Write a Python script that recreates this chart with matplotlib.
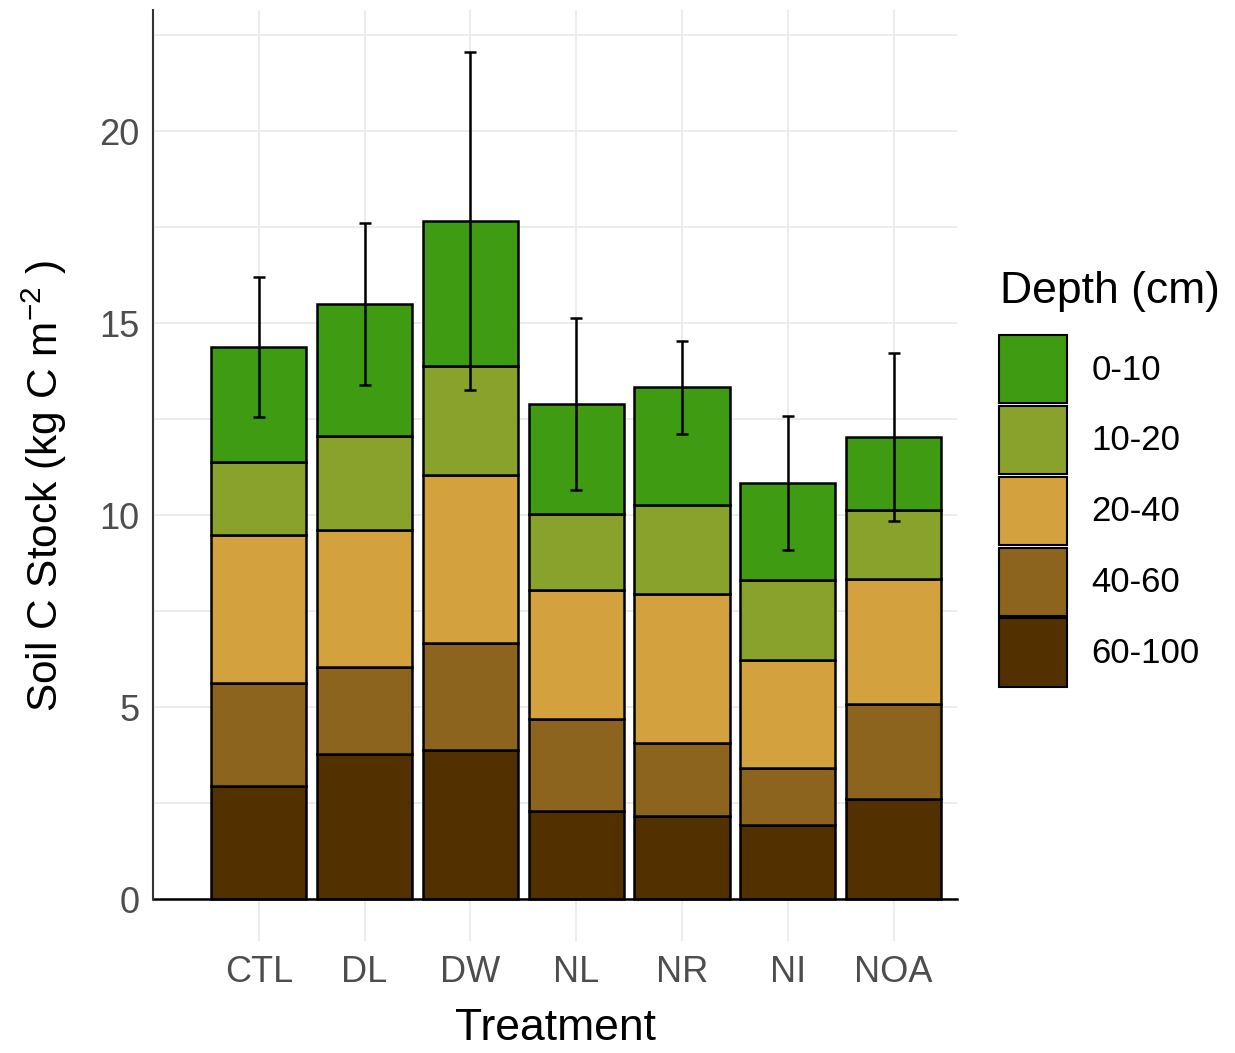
import numpy as np
import matplotlib
matplotlib.use("Agg")
import matplotlib.pyplot as plt
from matplotlib.patches import Patch

plt.rcParams['font.family'] = ['Liberation Sans', 'DejaVu Sans']
plt.rcParams['mathtext.fontset'] = 'custom'
plt.rcParams['mathtext.rm'] = 'Liberation Sans'
plt.rcParams['mathtext.it'] = 'Liberation Sans:italic'
plt.rcParams['mathtext.bf'] = 'Liberation Sans:bold'

treatments = ["CTL", "DL", "DW", "NL", "NR", "NI", "NOA"]
depths = ["0-10", "10-20", "20-40", "40-60", "60-100"]

# layer thicknesses, per depth
d60_100 = [2.94, 3.78, 3.88, 2.29, 2.16, 1.93, 2.60]
d40_60 = [2.69, 2.26, 2.79, 2.40, 1.90, 1.48, 2.48]
d20_40 = [3.85, 3.57, 4.37, 3.36, 3.88, 2.81, 3.25]
d10_20 = [1.90, 2.45, 2.84, 1.98, 2.32, 2.09, 1.80]
d0_10 = [3.00, 3.43, 3.78, 2.86, 3.07, 2.52, 1.90]
err = [1.82, 2.11, 4.40, 2.24, 1.21, 1.75, 2.19]

colors = {"0-10": "#3F9B12", "10-20": "#88A22C", "20-40": "#D3A23F",
          "40-60": "#8C641E", "60-100": "#523000"}

layers = {"60-100": d60_100, "40-60": d40_60, "20-40": d20_40,
          "10-20": d10_20, "0-10": d0_10}

fig = plt.figure(figsize=(12.35, 10.53), dpi=100)
ax = fig.add_axes([0.1239, 0.1064, 0.651, 0.884])

x = np.arange(1, len(treatments) + 1)
bottom = np.zeros(len(treatments))
for name in ["60-100", "40-60", "20-40", "10-20", "0-10"]:
    vals = np.array(layers[name])
    ax.bar(x, vals, width=0.9, bottom=bottom, color=colors[name],
           edgecolor='black', linewidth=1.8, zorder=3)
    bottom += vals

ax.errorbar(x, bottom, yerr=err, fmt='none', ecolor='black',
            elinewidth=1.8, capsize=4.5, capthick=1.8, zorder=4)

ax.set_xlim(0, 7.6)
ax.set_ylim(-1.09, 23.15)
ax.set_yticks([0, 5, 10, 15, 20])
ax.set_yticks([2.5, 7.5, 12.5, 17.5, 22.5], minor=True)
ax.set_xticks(x)
ax.set_xticklabels(treatments)

ax.grid(True, which='both', color='#EBEBEB', linewidth=1.3, zorder=0)
ax.grid(False, axis='x', which='minor')
for s in ax.spines.values():
    s.set_visible(False)
ax.tick_params(axis='both', which='both', length=0, labelsize=26,
               labelcolor='#4D4D4D')
ax.tick_params(axis='x', pad=10)
ax.tick_params(axis='y', pad=10)

# axis lines like the reference: along y=0 and x=0
ax.plot([0, 7.6], [0, 0], color='black', linewidth=1.8, zorder=5, clip_on=False)
ax.plot([0, 0], [0, 23.15], color='#333333', linewidth=1.5, zorder=5, clip_on=False)

ax.set_xlabel("Treatment", fontsize=32, labelpad=13)
ax.set_ylabel("Soil C Stock (kg C m$^{-2}$ )", fontsize=30.5)
ax.yaxis.set_label_coords(-0.1045, 0.489)

# legend title placed on its own so the gap above the keys matches
fig.text(1000 / 1235, 1 - 292 / 1053, "Depth (cm)", fontsize=32,
         ha='left', va='center')
handles = [Patch(facecolor=colors[d], edgecolor='black', linewidth=1.5, label=d)
           for d in depths]
leg = fig.legend(handles=handles, loc='upper left',
                 bbox_to_anchor=(0.809, 1 - 335 / 1053), frameon=False,
                 fontsize=25, handlelength=1.96, handleheight=2.64,
                 labelspacing=0.08, handletextpad=0.7,
                 borderaxespad=0, borderpad=0)

fig.savefig("out.png", dpi=100)
